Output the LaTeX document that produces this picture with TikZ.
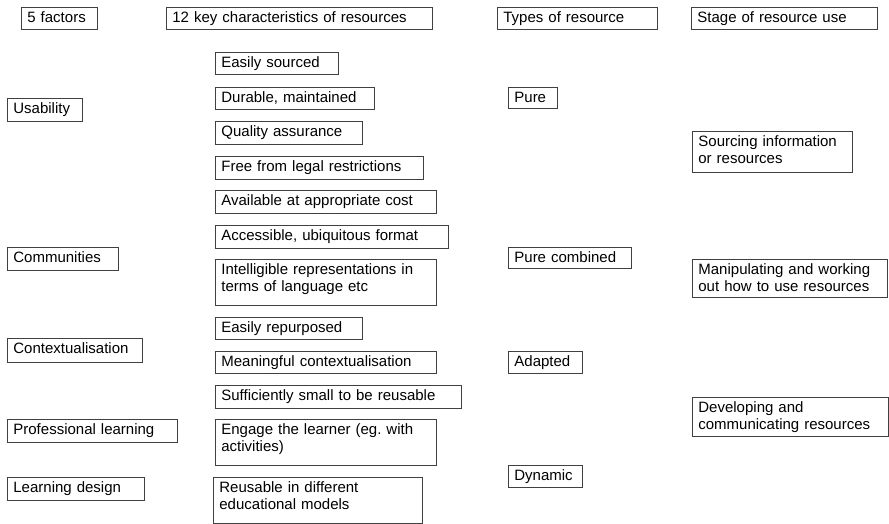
\documentclass[tikz,border=0pt]{standalone}
\usepackage{fontspec}
\setmainfont{Liberation Sans}
\begin{document}
\begin{tikzpicture}[x=1pt,y=-1pt,
  cell/.style={draw=black!75,line width=0.8pt,anchor=north west,inner xsep=6pt,inner ysep=0pt,
    align=left,text height=15pt,text depth=7pt,font=\fontsize{15}{17}\selectfont}]
\path[use as bounding box] (0,0) rectangle (889,524);
% column heads
\node[cell,text width=64pt] (hfac) at (21,7) {5 factors};
\node[cell,text width=254pt] (hkey) at (166,7) {12 key characteristics of resources};
\node[cell,text width=148pt] (htyp) at (497,7) {Types of resource};
\node[cell,text width=174pt] (hstg) at (691,7) {Stage of resource use};
% 5 factors
\node[cell,text width=63pt,text depth=8pt] (usab) at (7,98) {Usability};
\node[cell,text width=99pt,text depth=8pt] (comm) at (7,247) {Communities};
\node[cell,text width=123pt,text depth=9pt] (ctxt) at (7,338) {Contextualisation};
\node[cell,text width=158pt,text depth=8pt] (prof) at (7,419) {Professional learning};
\node[cell,text width=125pt,text depth=8pt] (ldes) at (7,477) {Learning design};
% 12 key characteristics
\node[cell,text width=111pt] (src) at (215,52) {Easily sourced};
\node[cell,text width=147pt] (dur) at (215,87) {Durable, maintained};
\node[cell,text width=135pt,text depth=8pt] (qual) at (215,121) {Quality assurance};
\node[cell,text width=196pt,text depth=8pt] (legal) at (215,156) {Free from legal restrictions};
\node[cell,text width=209pt,text depth=8pt] (cost) at (215,190) {Available at appropriate cost};
\node[cell,text width=221pt,text depth=8pt] (fmt) at (215,225) {Accessible, ubiquitous format};
\node[cell,text width=209pt,text depth=31pt] (intel) at (215,259) {Intelligible representations in\\terms of language etc};
\node[cell,text width=135pt] (repur) at (215,317) {Easily repurposed};
\node[cell,text width=209pt] (mean) at (215,351) {Meaningful contextualisation};
\node[cell,text width=234pt,text depth=8pt] (small) at (215,385) {Sufficiently small to be reusable};
\node[cell,text width=209pt,text depth=31pt] (eng) at (215,419) {Engage the learner (eg.\ with\\activities)};
\node[cell,text width=197pt,text depth=31pt] (reuse) at (213,477) {Reusable in different\\educational models};
% types of resource
\node[cell,text width=37pt,text depth=6pt] (pure) at (508,87) {Pure};
\node[cell,text width=111pt,text depth=6pt] (pcomb) at (508,247) {Pure combined};
\node[cell,text width=62pt] (adap) at (508,351) {Adapted};
\node[cell,text width=62pt] (dyn) at (508,465) {Dynamic};
% stages
\node[cell,text width=148pt,text depth=26pt] (stsrc) at (692,131) {Sourcing information\\or resources};
\node[cell,text width=183pt,text depth=23pt] (stman) at (692,259) {Manipulating and working\\out how to use resources};
\node[cell,text width=184pt,text depth=24pt] (stdev) at (692,397) {Developing and\\communicating resources};
\end{tikzpicture}
\end{document}
